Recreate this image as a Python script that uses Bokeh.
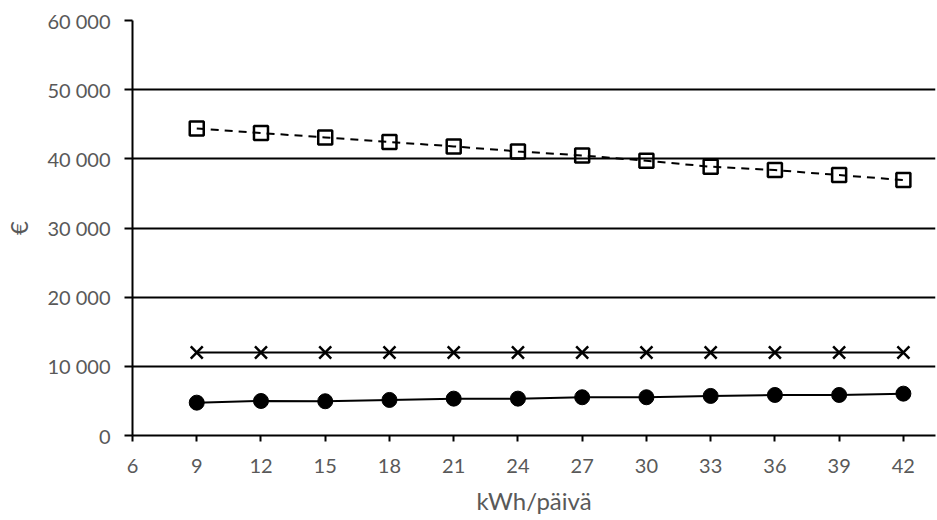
from bokeh.plotting import figure
from bokeh.models import Range1d, FixedTicker
from bokeh.embed import file_html
from bokeh.resources import INLINE

# Data
kwh = [9, 12, 15, 18, 21, 24, 27, 30, 33, 36, 39, 42]
series_square = [44400, 43730, 43100, 42430, 41800, 41070, 40490, 39720, 38860, 38370, 37650, 36930]
series_cross = [12000, 12000, 12000, 12000, 12000, 12000, 12000, 12000, 12000, 12000, 12000, 12000]
series_circle = [4750, 4990, 4950, 5140, 5330, 5330, 5530, 5530, 5720, 5860, 5860, 6050]

x_ticks = [6, 9, 12, 15, 18, 21, 24, 27, 30, 33, 36, 39, 42]
y_ticks = [0, 10000, 20000, 30000, 40000, 50000, 60000]
y_tick_labels = ["0", "10\u00a0000", "20\u00a0000", "30\u00a0000", "40\u00a0000", "50\u00a0000", "60\u00a0000"]
x_label = "kWh/päivä"
y_label = "€"

FONT = "Lato"
GRAY = "#595959"

p = figure(width=937, height=520, output_backend="svg", toolbar_location=None,
           x_range=Range1d(6, 43.5), y_range=Range1d(0, 60000),
           min_border_left=132, min_border_right=2, min_border_top=20, min_border_bottom=85)
p.outline_line_color = None
p.background_fill_color = "white"
p.border_fill_color = "white"

# axes
p.xaxis.ticker = FixedTicker(ticks=x_ticks)
p.yaxis.ticker = FixedTicker(ticks=y_ticks)
p.yaxis.major_label_overrides = {t: l for t, l in zip(y_ticks, y_tick_labels)}
for ax in (p.xaxis[0], p.yaxis[0]):
    ax.axis_line_color = "black"
    ax.axis_line_width = 2
    ax.major_tick_line_color = "black"
    ax.major_tick_line_width = 2
    ax.major_tick_in = 0
    ax.minor_tick_line_color = None
    ax.major_label_text_font = FONT
    ax.major_label_text_font_size = "20px"
    ax.major_label_text_color = GRAY
    ax.axis_label_text_font = FONT
    ax.axis_label_text_font_size = "24px"
    ax.axis_label_text_color = GRAY
    ax.axis_label_text_font_style = "normal"
p.xaxis.major_tick_out = 6
p.yaxis.major_tick_out = 8
p.xaxis.major_label_standoff = 17
p.yaxis.major_label_standoff = 14
p.xaxis.axis_label = x_label
p.yaxis.axis_label = y_label
p.xaxis.axis_label_standoff = 10
p.yaxis.axis_label_standoff = 11

p.xgrid.grid_line_color = None
p.ygrid.ticker = FixedTicker(ticks=y_ticks)
p.ygrid.grid_line_color = "black"
p.ygrid.grid_line_width = 2

# series
p.line(kwh, series_square, line_color="black", line_width=2, line_dash="8 6")
p.scatter(kwh, series_square, marker="square", size=14, fill_color=None,
          line_color="black", line_width=2.5)

p.line(kwh, series_cross, line_color="black", line_width=2)
p.scatter(kwh, series_cross, marker="x", size=17, line_color="black", line_width=2.5)

p.line(kwh, series_circle, line_color="black", line_width=2)
p.scatter(kwh, series_circle, marker="circle", size=15, fill_color="black", line_color="black")

open("out.html", "w").write(file_html(p, INLINE))
